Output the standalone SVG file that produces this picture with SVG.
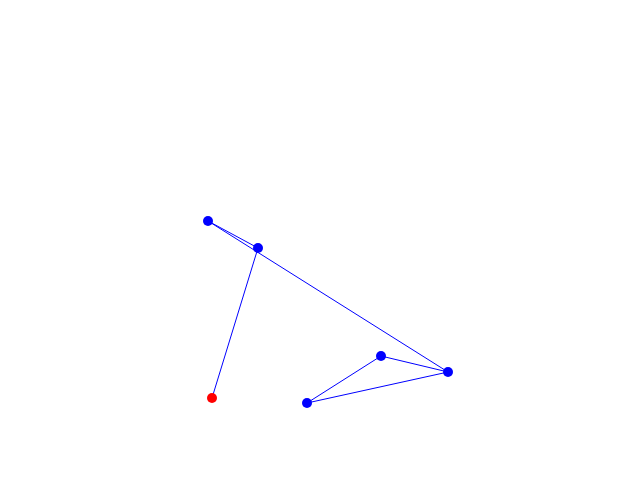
<svg xmlns="http://www.w3.org/2000/svg" width="640" height="480" viewBox="0 0 640 480">
<style>
.e{stroke:#0000ff;stroke-width:1;fill:none}
.n{fill:#0000ff}
.r{fill:#ff0000}
</style>
<rect width="640" height="480" fill="#fff"/>
<g id="edges">
<line class="e" x1="208" y1="221" x2="258" y2="248"/>
<line class="e" x1="208" y1="221" x2="448" y2="372"/>
<line class="e" x1="258" y1="248" x2="212" y2="398"/>
<line class="e" x1="381" y1="356" x2="448" y2="372"/>
<line class="e" x1="307" y1="403" x2="381" y2="356"/>
<line class="e" x1="307" y1="403" x2="448" y2="372"/>
</g>
<g id="n1"><circle class="n" cx="208" cy="221" r="5"/></g>
<g id="n2"><circle class="n" cx="258" cy="248" r="5"/></g>
<g id="n3"><circle class="r" cx="212" cy="398" r="5"/></g>
<g id="n4"><circle class="n" cx="448" cy="372" r="5"/></g>
<g id="n5"><circle class="n" cx="381" cy="356" r="5"/></g>
<g id="n6"><circle class="n" cx="307" cy="403" r="5"/></g>
</svg>
